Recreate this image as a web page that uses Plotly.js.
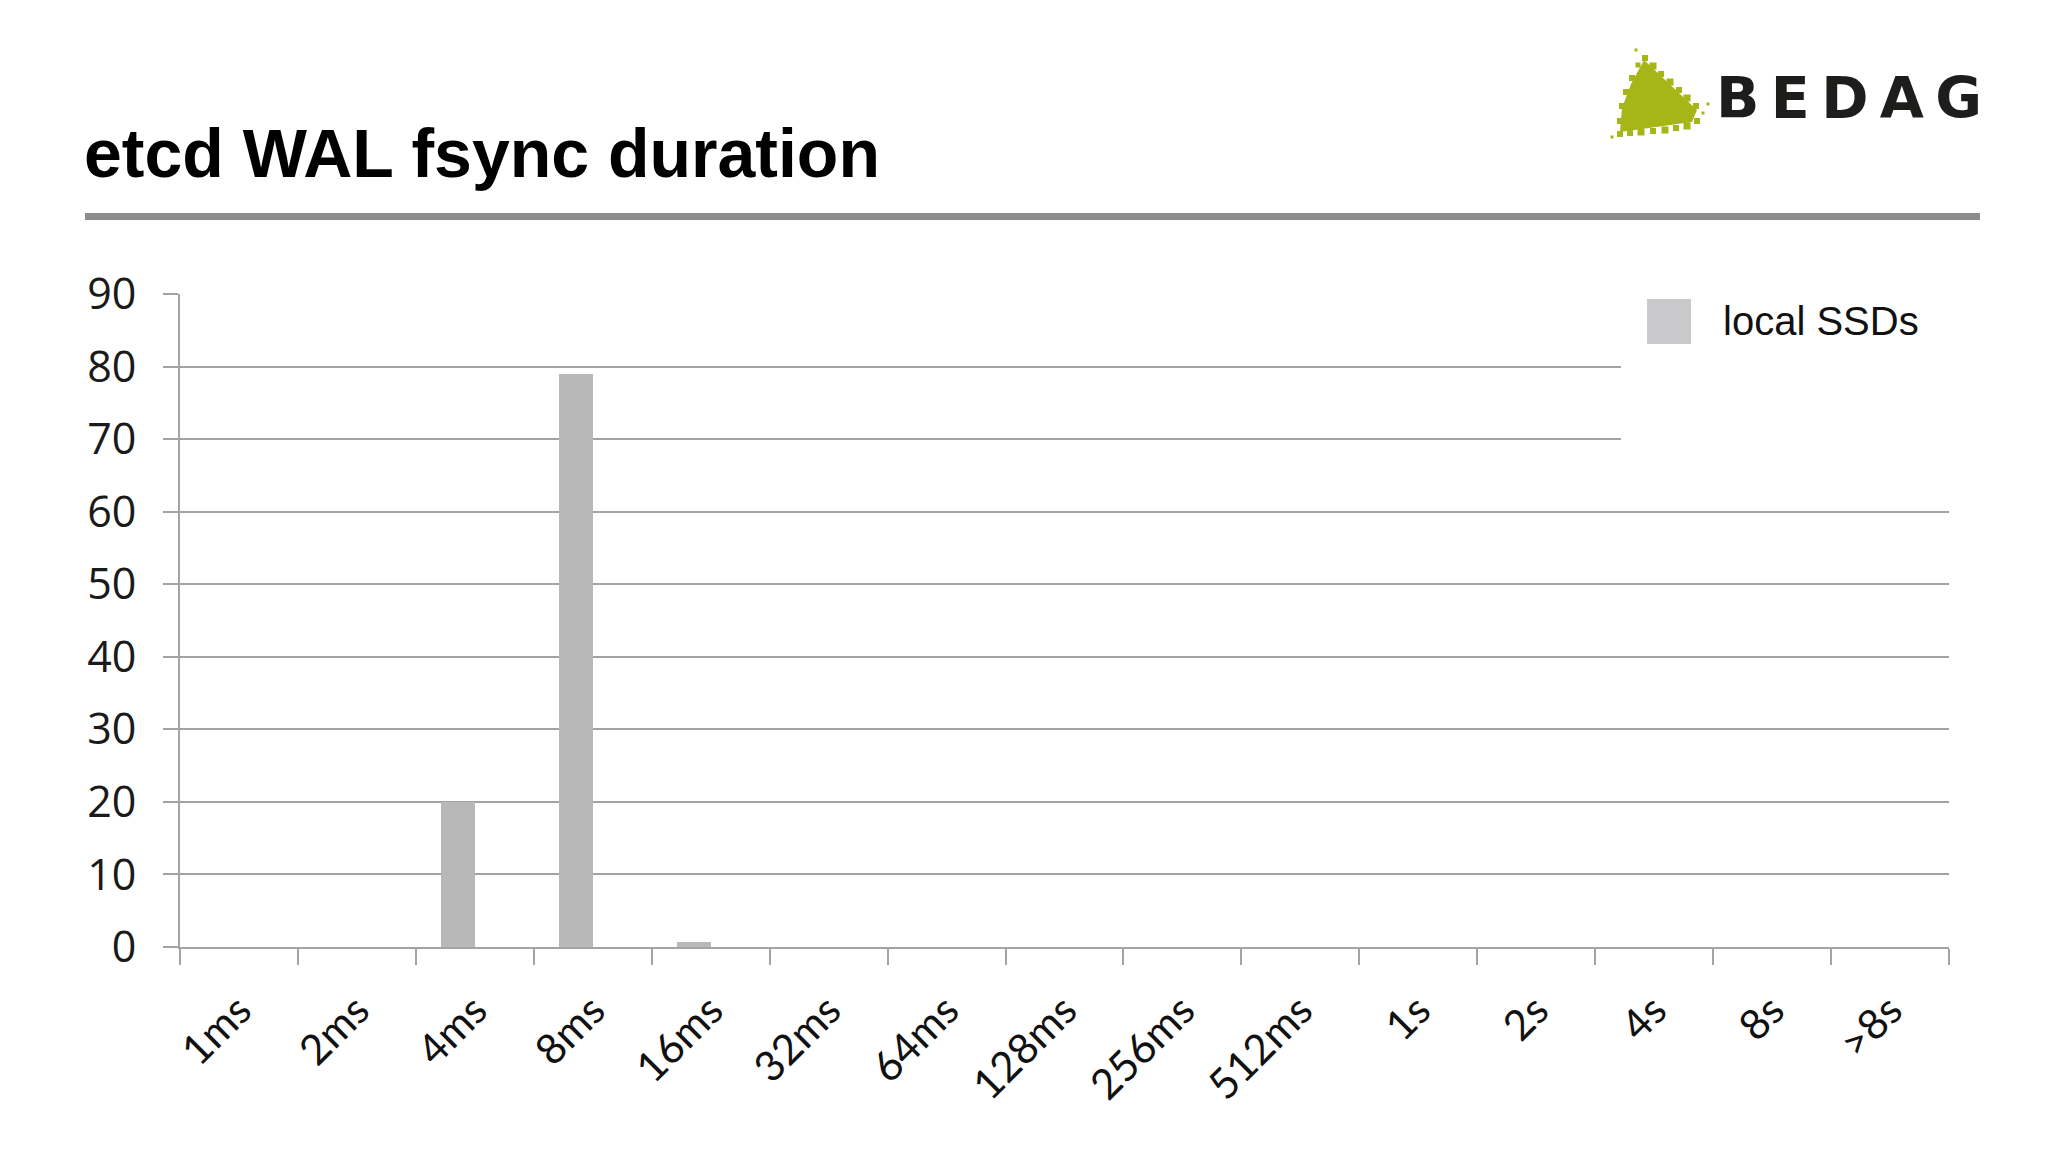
<!DOCTYPE html>
<html>
<head>
<meta charset="utf-8">
<script src="https://cdn.plot.ly/plotly-3.0.1.min.js"></script>
<style>
  html, body { margin: 0; padding: 0; background: #ffffff; }
  #chart { width: 2048px; height: 1152px; }
</style>
</head>
<body>
<div id="chart"></div>
<script>
// ---- data ----
const categories = ['1ms', '2ms', '4ms', '8ms', '16ms', '32ms', '64ms', '128ms', '256ms', '512ms', '1s', '2s', '4s', '8s', '>8s'];
const localSSDs = [0, 0, 20, 79, 0.7, 0, 0, 0, 0, 0, 0, 0, 0, 0, 0];
const seriesName = 'local SSDs';
const yTickValues = [0, 10, 20, 30, 40, 50, 60, 70, 80, 90];
const chartTitle = 'etcd WAL fsync duration';
const brandName = 'B\u2009E\u2009D\u2009A\u2009G';

// ---- layout geometry (pixels) ----
const W = 2048, H = 1152;
const M = { l: 180, r: 99, t: 294, b: 205 };
const PW = W - M.l - M.r, PH = H - M.t - M.b;
const px = X => (X - M.l) / PW;          // pixel x -> paper x
const py = Y => (H - M.b - Y) / PH;      // pixel y -> paper y

const gridCol = '#a3a3a3';
const barCol = '#b8b8b8';
const swatchCol = '#c9c8cb';
const logoGreen = '#a5b616';

const trace = {
  type: 'bar',
  x: categories,
  y: localSSDs,
  name: seriesName,
  width: 0.29,
  offset: -0.29,
  marker: { color: barCol, line: { width: 0 } },
  showlegend: false,
  hoverinfo: 'x+y'
};

function path(points) {
  return points.map((p, i) => (i ? 'L' : 'M') + px(p[0]).toFixed(5) + ',' + py(p[1]).toFixed(5)).join(' ') + ' Z';
}

// decorative pixel squares that roughen the edges of the logo mark (pixel x, y, size)
const logoDots = [
  [1645, 58, 6], [1653, 66, 7], [1661, 74, 6], [1670, 82, 7], [1679, 90, 6], [1687, 98, 7],
  [1696, 106, 6], [1703, 113, 3], [1697, 121, 6], [1687, 126, 7], [1676, 128, 6], [1665, 130, 7],
  [1653, 131, 6], [1641, 132, 7], [1630, 133, 6], [1620, 134, 6], [1612, 137, 3], [1620, 121, 6],
  [1622, 106, 6], [1626, 92, 6], [1632, 78, 6], [1638, 65, 5], [1708, 104, 3], [1636, 50, 3]
];

const shapes = [
  // header rule
  { type: 'rect', xref: 'paper', yref: 'paper', x0: px(85), x1: px(1980), y0: py(220), y1: py(213),
    fillcolor: '#8c8c8c', line: { width: 0 }, layer: 'above' },
  // legend background (covers gridlines)
  { type: 'rect', xref: 'paper', yref: 'paper', x0: px(1621), x1: px(2010), y0: py(470), y1: py(266),
    fillcolor: '#ffffff', line: { width: 0 }, layer: 'above' },
  // legend swatch
  { type: 'rect', xref: 'paper', yref: 'paper', x0: px(1647), x1: px(1691), y0: py(344), y1: py(299),
    fillcolor: swatchCol, line: { width: 0 }, layer: 'above' },
  // logo mark
  { type: 'path', xref: 'paper', yref: 'paper',
    path: path([[1644, 60], [1697, 110], [1692, 122], [1620, 132], [1622, 108], [1631, 84]]),
    fillcolor: logoGreen, line: { width: 0 }, layer: 'above' }
];
logoDots.forEach(d => {
  shapes.push({ type: 'rect', xref: 'paper', yref: 'paper',
    x0: px(d[0] - d[2] / 2), x1: px(d[0] + d[2] / 2), y0: py(d[1] + d[2] / 2), y1: py(d[1] - d[2] / 2),
    fillcolor: logoGreen, line: { width: 0 }, layer: 'above' });
});

const layout = {
  width: W, height: H,
  margin: M,
  paper_bgcolor: '#ffffff',
  plot_bgcolor: '#ffffff',
  font: { family: 'Open Sans, sans-serif', color: '#1a1a1a' },
  title: {
    text: '<b>' + chartTitle + '</b>',
    font: { family: 'Liberation Sans, Arial, sans-serif', size: 68, color: '#000000' },
    xref: 'container', yref: 'container',
    x: 84 / W, xanchor: 'left',
    y: 1 - 153 / H, yanchor: 'middle'
  },
  bargap: 0,
  xaxis: {
    type: 'category',
    categoryorder: 'array',
    categoryarray: categories,
    tickson: 'boundaries',
    ticks: 'outside',
    ticklen: 16,
    tickwidth: 2,
    tickcolor: gridCol,
    showline: true,
    linecolor: gridCol,
    linewidth: 2,
    showgrid: false,
    zeroline: false,
    tickangle: -45,
    ticklabelstandoff: 20,
    tickfont: { family: 'Lato, sans-serif', size: 42, color: '#111111' },
    fixedrange: true
  },
  yaxis: {
    range: [0, 90],
    tickvals: yTickValues,
    ticks: 'outside',
    ticklen: 15,
    tickwidth: 2,
    tickcolor: gridCol,
    showline: true,
    linecolor: gridCol,
    linewidth: 2,
    showgrid: true,
    gridcolor: gridCol,
    gridwidth: 2,
    zeroline: false,
    ticklabelstandoff: 18,
    tickfont: { family: 'Open Sans, sans-serif', size: 43, color: '#1a1a1a' },
    fixedrange: true
  },
  shapes: shapes,
  annotations: [
    { xref: 'paper', yref: 'paper', x: px(1721), y: py(321), xanchor: 'left', yanchor: 'middle',
      text: seriesName, showarrow: false,
      font: { family: 'Liberation Sans, Arial, sans-serif', size: 40, color: '#111111' } },
    { xref: 'paper', yref: 'paper', x: px(1714), y: py(98), xanchor: 'left', yanchor: 'middle',
      text: '<b>' + brandName + '</b>', showarrow: false,
      font: { family: 'DejaVu Sans, sans-serif', size: 57, color: '#1d1d1b' } }
  ]
};

Plotly.newPlot('chart', [trace], layout, { displayModeBar: false, staticPlot: true });
</script>
</body>
</html>
